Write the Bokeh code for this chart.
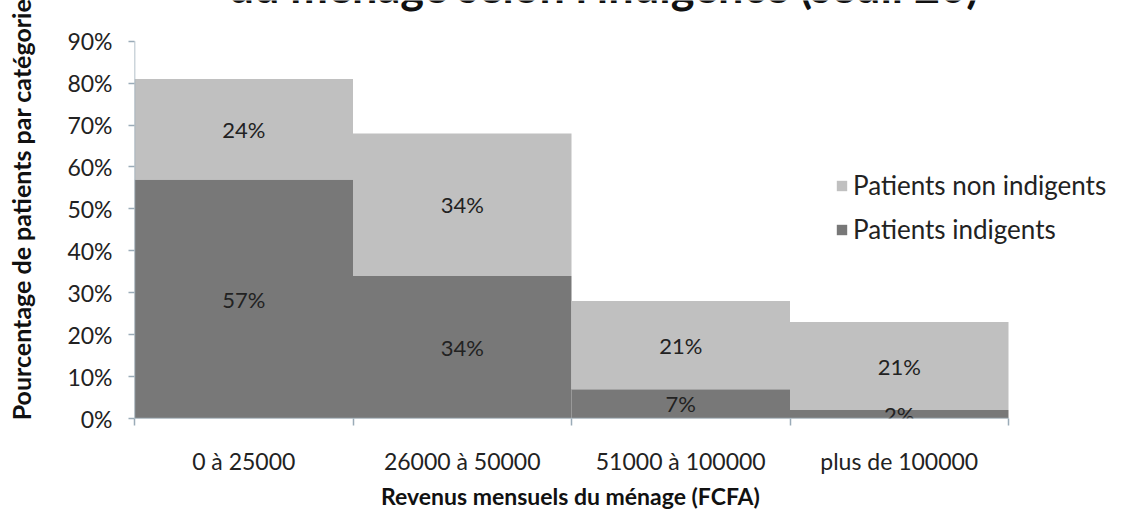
from bokeh.plotting import figure
from bokeh.models import FixedTicker, Label, Legend, LegendItem, Range1d, ColumnDataSource
from bokeh.embed import file_html
from bokeh.resources import INLINE
from bokeh.core.properties import value

categories = ["0 à 25000", "26000 à 50000", "51000 à 100000", "plus de 100000"]
indigents = [57, 34, 7, 2]
non_indigents = [24, 34, 21, 21]
y_ticks = [0, 10, 20, 30, 40, 50, 60, 70, 80, 90]

FONT = "Lato"
LIGHT = "#c0c0c0"
DARK = "#787878"
AXIS = "#9aabb8"
TXT = "#222222"

n = len(categories)
xs = [i + 0.5 for i in range(n)]
totals = [a + b for a, b in zip(indigents, non_indigents)]

W, H = 1112, 512
LEFT, TOP, BOTTOM, RIGHT = 134, 0, 91, 0
frame_w = W - LEFT - RIGHT
frame_h = H - TOP - BOTTOM
cat_px = 874 / n            # pixel width of one category
x_end = frame_w / cat_px
y_top = max(y_ticks)
y_end = y_top * frame_h / 380   # top tick sits 380px above the baseline

p = figure(width=W, height=H, output_backend="svg", toolbar_location=None,
           x_range=Range1d(0, x_end), y_range=Range1d(0, y_end),
           min_border_left=LEFT, min_border_right=RIGHT, min_border_top=TOP, min_border_bottom=BOTTOM)
p.outline_line_color = None
p.grid.grid_line_color = None
p.background_fill_color = "white"

src = ColumnDataSource(dict(x=xs, ind=indigents, non=non_indigents, tot=totals,
                            ind_lbl=[f"{v}%" for v in indigents],
                            non_lbl=[f"{v}%" for v in non_indigents],
                            ind_mid=[v / 2 for v in indigents],
                            non_mid=[a + b / 2 for a, b in zip(indigents, non_indigents)]))

r_dark = p.vbar(x="x", width=1.0, bottom=0, top="ind", source=src, fill_color=DARK, line_color=None)
r_light = p.vbar(x="x", width=1.0, bottom="ind", top="tot", source=src, fill_color=LIGHT, line_color=None)

p.text(x="x", y="non_mid", text="non_lbl", source=src, text_align="center", text_baseline="middle",
       text_font=value(FONT), text_font_size="22px", text_color=TXT)
p.text(x="x", y="ind_mid", text="ind_lbl", source=src, text_align="center", text_baseline="middle",
       text_font=value(FONT), text_font_size="22px", text_color=TXT)

# axis lines limited to the data extent
p.segment(x0=[0, 0], y0=[0, 0], x1=[n, 0], y1=[0, y_top], line_color=AXIS, line_width=1.5)

# x axis
xa = p.xaxis[0]
xa.ticker = FixedTicker(ticks=xs, minor_ticks=list(range(n + 1)))
xa.major_label_overrides = {x: c for x, c in zip(xs, categories)}
xa.major_tick_out = 0
xa.major_tick_in = 0
xa.minor_tick_out = 7
xa.minor_tick_in = 0
xa.minor_tick_line_color = AXIS
xa.minor_tick_line_width = 1.5
xa.axis_line_color = None
xa.major_label_standoff = 21
xa.major_label_text_font = FONT
xa.major_label_text_font_size = "23px"
xa.major_label_text_line_height = 1.0
xa.major_label_text_color = TXT
# padded on the right so that it is centred under the categories, not the whole frame
xa.axis_label = "Revenus mensuels du ménage (FCFA)" + "\u00a0" * 19
xa.axis_label_text_font = FONT
xa.axis_label_text_font_size = "23px"
xa.axis_label_text_line_height = 1.0
xa.axis_label_text_font_style = "bold"
xa.axis_label_text_color = "#111111"
xa.axis_label_standoff = 4

# y axis
ya = p.yaxis[0]
ya.ticker = FixedTicker(ticks=y_ticks)
ya.major_label_overrides = {t: f"{t}%" for t in y_ticks}
ya.major_tick_out = 6
ya.major_tick_in = 0
ya.minor_tick_out = 0
ya.minor_tick_in = 0
ya.major_tick_line_color = AXIS
ya.major_tick_line_width = 1.5
ya.axis_line_color = None
ya.major_label_standoff = 16
ya.major_label_text_font = FONT
ya.major_label_text_font_size = "23px"
ya.major_label_text_color = TXT
ya.axis_label = "Pourcentage de patients par catégorie"
ya.axis_label_text_font = FONT
ya.axis_label_text_font_size = "25px"
ya.axis_label_text_font_style = "bold"
ya.axis_label_text_color = "#111111"
ya.axis_label_standoff = 28

legend = Legend(items=[LegendItem(label="Patients non indigents", renderers=[r_light]),
                       LegendItem(label="Patients indigents", renderers=[r_dark])],
                location=(701, 173), orientation="vertical")
legend.background_fill_alpha = 0
legend.border_line_color = None
legend.padding = 0
legend.margin = 0
legend.label_text_font = FONT
legend.label_text_font_size = "26px"
legend.label_text_color = TXT
legend.glyph_width = 13
legend.glyph_height = 13
legend.label_height = 24
legend.spacing = 12
legend.label_standoff = 5
p.add_layout(legend)

# title, partly cut off at the top of the picture (screen units relative to the frame)
title = Label(x=469, y=frame_h + 12, x_units="screen", y_units="screen",
              text="du ménage selon l’indigence (seuil 20)",
              text_font=FONT, text_font_size="45px", text_font_style="bold",
              text_align="center", text_baseline="alphabetic", text_color="#111111")
p.add_layout(title)

open("out.html", "w").write(file_html(p, INLINE))
